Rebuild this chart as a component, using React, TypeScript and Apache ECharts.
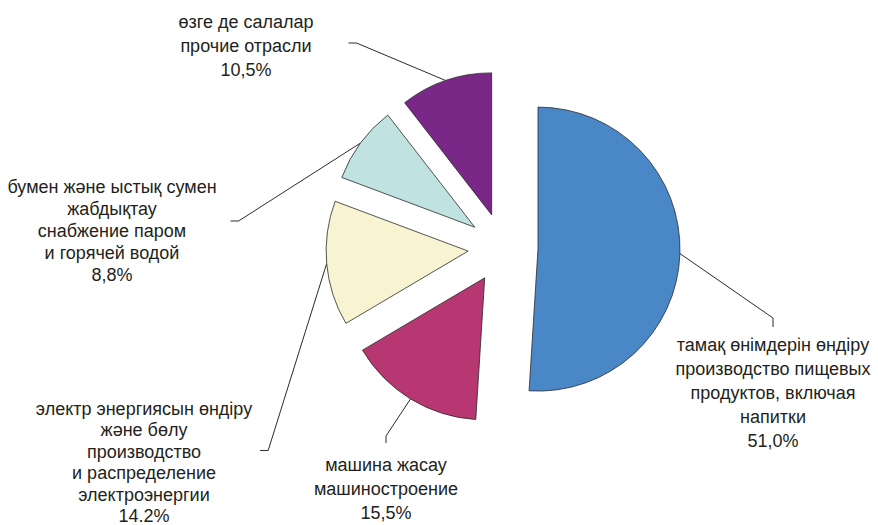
import { useEffect, useRef } from "react";
import * as echarts from "echarts";

const categories = ["food", "machinery", "electricity", "steam", "other"];
const labelTexts: string[][] = [
  ["тамақ өнімдерін өндіру", "производство пищевых", "продуктов, включая", "напитки"],
  ["машина жасау", "машиностроение"],
  ["электр энергиясын өндіру", "және бөлу", "производство", "и распределение", "электроэнергии"],
  ["бумен және ыстық сумен", "жабдықтау", "снабжение паром", "и горячей водой"],
  ["өзге де салалар", "прочие отрасли"],
];
const values = [51.0, 15.5, 14.2, 8.8, 10.5];
const valueLabels = ["51,0%", "15,5%", "14.2%", "8,8%", "10,5%"];
const colors = ["#4a87c6", "#b63771", "#f8f4d2", "#c0e2e0", "#7a2888"];

// layout (not data)
const CENTER = [503, 248];
const RADIUS = 142;
const EXPLODE = 35;
const labelPlace = [
  { x: 773, y: 327, lh: 24, pad: [6, 10, 0, 10], len2: 9 },
  { x: 386, y: 443, lh: 24, pad: [10, 10, 0, 10], len2: 7 },
  { x: 144, y: 374, lh: 21.5, pad: [24, 8, 0, 8], len2: 8 },
  { x: 112, y: 156, lh: 22, pad: [20, 14, 0, 14], len2: 8 },
  { x: 246, y: 4, lh: 24, pad: [6, 35, 0, 35], len2: 8 },
];

export default function App() {
  const ref = useRef<HTMLDivElement>(null);
  useEffect(() => {
    document.body.style.margin = "0";
    const chart = echarts.init(ref.current!, null, { renderer: "svg" });
    const total = values.reduce((a, b) => a + b, 0);
    let cum = 0;
    const series = values.map((v, i) => {
      const mid = ((cum + v / 2) / total) * Math.PI * 2;
      cum += v;
      const cx = CENTER[0] + EXPLODE * Math.sin(mid);
      const cy = CENTER[1] - EXPLODE * Math.cos(mid);
      return {
        type: "pie",
        center: [cx, cy],
        radius: RADIUS,
        startAngle: 90,
        clockwise: true,
        avoidLabelOverlap: false,
        emphasis: { disabled: true },
        silent: true,
        label: {
          show: true,
          position: "outside",
          color: "#231f20",
          fontFamily: "Liberation Sans, Arial, sans-serif",
          fontSize: 18,
          align: "center",
          formatter: (p: any) =>
            [...labelTexts[p.dataIndex], valueLabels[p.dataIndex]].join("\n"),
        },
        labelLine: {
          show: true,
          length: 20,
          length2: 8,
          lineStyle: { color: "#2a2a2a", width: 1 },
        },
        labelLayout: (p: any) => {
          const lp = labelPlace[p.dataIndex];
          return { x: lp.x, y: lp.y, align: "center", verticalAlign: "top" };
        },
        data: values.map((w, j) =>
          j === i
            ? {
                value: w,
                name: categories[j],
                itemStyle: { color: colors[j], borderColor: "#2a2a2a", borderWidth: 0.8 },
                label: { lineHeight: labelPlace[j].lh, padding: labelPlace[j].pad },
                labelLine: { length2: labelPlace[j].len2 },
              }
            : {
                value: w,
                name: categories[j],
                itemStyle: { color: "rgba(0,0,0,0)", borderWidth: 0, opacity: 0 },
                label: { show: false },
                labelLine: { show: false },
              }
        ),
      };
    });
    chart.setOption({
      animation: false,
      backgroundColor: "#ffffff",
      series,
    });
    return () => chart.dispose();
  }, []);
  return <div ref={ref} style={{ width: 878, height: 525 }} />;
}
